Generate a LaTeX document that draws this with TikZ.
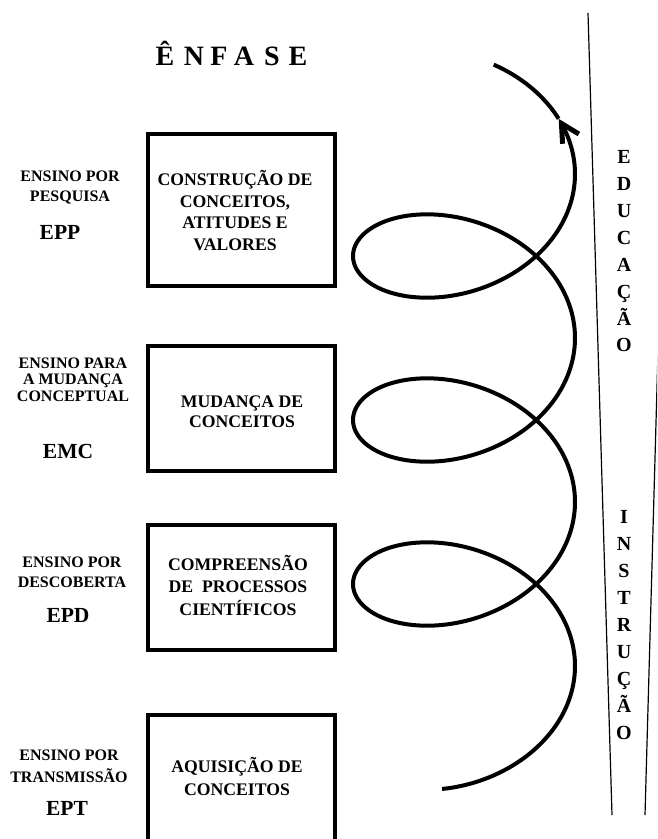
\documentclass[tikz,border=0pt]{standalone}
\usepackage{fontspec}
\setmainfont{Liberation Serif}
\usetikzlibrary{arrows.meta}
\begin{document}
\begin{tikzpicture}[x=1pt,y=-1pt,
  frame/.style={draw, line width=4pt, minimum width=187pt, inner sep=0pt},
  boxtext/.style={font=\bfseries\fontsize{17.7}{21.5}\selectfont, align=center, inner sep=0pt},
  sidetext/.style={font=\bfseries\fontsize{16}{20}\selectfont, align=center, inner sep=0pt},
  acro/.style={font=\bfseries\fontsize{21.5}{24}\selectfont, inner sep=0pt},
  vletter/.style={font=\bfseries\fontsize{20}{24}\selectfont, anchor=base, inner sep=0pt},
  titleletter/.style={font=\bfseries\fontsize{28}{32}\selectfont, anchor=base, inner sep=0pt},
  spiral/.style={line width=4pt, line join=round},
  sideline/.style={line width=1.2pt}
]
\useasboundingbox (0,0) rectangle (657,839);

\begin{scope}
\clip (0,0) rectangle (657,839);

% the four stages
\node[frame, minimum height=152.5pt] (box1) at (241,209.75) {};
\node[frame, minimum height=125pt]   (box2) at (241,408) {};
\node[frame, minimum height=125pt]   (box3) at (241,587) {};
\node[frame, minimum height=200pt]   (box4) at (241,815) {};

% the two slanted rules on the right
\coordinate (la-top) at (588,13);
\coordinate (la-bot) at (612,815);
\coordinate (lb-top) at (660,280);
\coordinate (lb-bot) at (645,815);
\draw[sideline] (la-top) -- (la-bot);
\draw[sideline] (lb-top) -- (lb-bot);

% rising spiral: trochoid with three loops
\draw[spiral, -{Straight Barb[length=18pt,width=19pt,line width=5pt]}]
  plot[domain=-1.77:19.40, samples=600, variable=\t]
  ({464+111*cos(\t r)}, {584-26.1*(\t-pi)-78.3*sin(\t r)});
\draw[spiral]
  plot[domain=19.40:20.15, samples=40, variable=\t]
  ({464+111*cos(\t r)}, {584-26.1*(\t-pi)-78.3*sin(\t r)});
\end{scope}

% box contents
\node[boxtext] (txt1) at (235,210.5) {CONSTRUÇÃO DE\\CONCEITOS,\\ATITUDES E\\VALORES};
\node[boxtext, font=\bfseries\fontsize{17.7}{20}\selectfont] (txt2) at (242,412) {MUDANÇA DE\\CONCEITOS};
\node[boxtext, font=\bfseries\fontsize{17.7}{22.5}\selectfont] (txt3) at (238,585) {COMPREENSÃO\\DE~~PROCESSOS\\CIENTÍFICOS};
\node[boxtext, font=\bfseries\fontsize{17.7}{23}\selectfont] (txt4) at (237,776.5) {AQUISIÇÃO DE\\CONCEITOS};

% approaches on the left
\node[sidetext] (epp-name) at (70,187) {ENSINO POR\\PESQUISA};
\node[acro] (epp) at (60,232) {EPP};
\node[sidetext, font=\bfseries\fontsize{16}{16.5}\selectfont] (emc-name) at (73,379.5) {ENSINO PARA\\A MUDANÇA\\CONCEPTUAL};
\node[acro] (emc) at (68,451) {EMC};
\node[sidetext] (epd-name) at (72,572) {ENSINO POR\\DESCOBERTA};
\node[acro] (epd) at (68,615) {EPD};
\node[sidetext, font=\bfseries\fontsize{16}{22}\selectfont] (ept-name) at (69,766) {ENSINO POR\\TRANSMISSÃO};
\node[acro] (ept) at (67,808) {EPT};

% heading
\foreach \ch/\xx [count=\i] in {Ê/165,N/194,F/219,A/244,S/272,E/298}
  \node[titleletter] (title-\i) at (\xx,65) {\ch};

% vertical words
\foreach \ch [count=\i] in {E,D,U,C,A,Ç,Ã,O}
  \node[vletter] (edu-\i) at (624,{163.6+(\i-1)*26.9}) {\ch};
\foreach \ch [count=\i] in {I,N,S,T,R,U,Ç,Ã,O}
  \node[vletter] (ins-\i) at (624,{523.6+(\i-1)*27}) {\ch};

\end{tikzpicture}
\end{document}
